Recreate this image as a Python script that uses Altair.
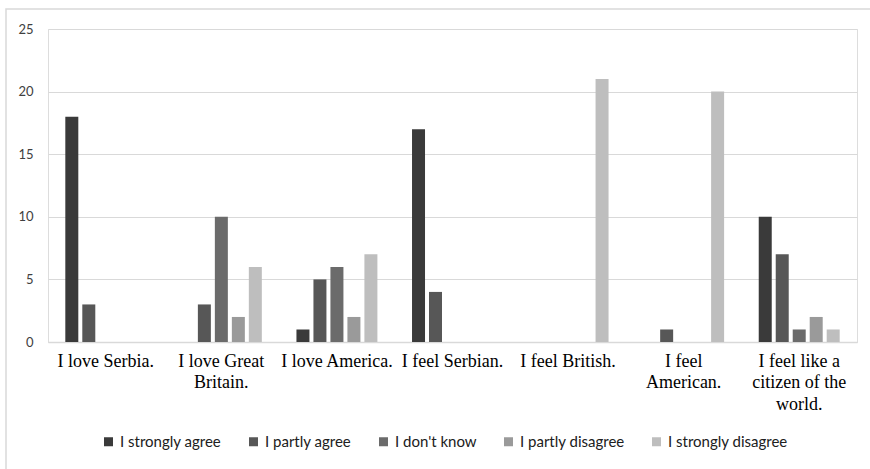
import altair as alt
import pandas as pd

categories = [
    "I love Serbia.",
    "I love Great Britain.",
    "I love America.",
    "I feel Serbian.",
    "I feel British.",
    "I feel American.",
    "I feel like a citizen of the world.",
]
label_lines = [
    ["I love Serbia."],
    ["I love Great", "Britain."],
    ["I love America."],
    ["I feel Serbian."],
    ["I feel British."],
    ["I feel", "American."],
    ["I feel like a", "citizen of the", "world."],
]
responses = ["I strongly agree", "I partly agree", "I don't know", "I partly disagree", "I strongly disagree"]
colors = ["#3a3a3a", "#575757", "#6b6b6b", "#9a9a9a", "#bebebe"]

strongly_agree = [18, 0, 1, 17, 0, 0, 10]
partly_agree = [3, 3, 5, 4, 0, 1, 7]
dont_know = [0, 10, 6, 0, 0, 0, 1]
partly_disagree = [0, 2, 2, 0, 0, 0, 2]
strongly_disagree = [0, 6, 7, 0, 21, 20, 1]

series = [strongly_agree, partly_agree, dont_know, partly_disagree, strongly_disagree]
rows = []
for r, vals in zip(responses, series):
    for c, v in zip(categories, vals):
        rows.append({"category": c, "response": r, "value": v})
df = pd.DataFrame(rows)

label_expr = ""
for c, lines in zip(categories, label_lines):
    arr = "[" + ",".join("'" + l + "'" for l in lines) + "]"
    label_expr += f"datum.label == '{c}' ? {arr} : "
label_expr += "datum.label"

bars = alt.Chart(df).mark_bar().encode(
    x=alt.X("category:N", sort=categories,
            scale=alt.Scale(paddingInner=0.265, paddingOuter=0.1325),
            axis=alt.Axis(title=None, labelAngle=0, labelExpr=label_expr,
                          labelFont="Liberation Serif", labelFontSize=18,
                          labelColor="#000000", labelLineHeight=21.5,
                          labelBaseline="top", labelPadding=10,
                          ticks=False, domainColor="#d9d9d9", domainWidth=1.5)),
    xOffset=alt.XOffset("response:N", sort=responses,
                        scale=alt.Scale(paddingInner=0.235, paddingOuter=0.1175)),
    y=alt.Y("value:Q", scale=alt.Scale(domain=[0, 25]),
            axis=alt.Axis(title=None, values=[0, 5, 10, 15, 20, 25],
                          labelFont="Lato", labelFontSize=13, labelColor="#404040",
                          labelPadding=15, domain=False, ticks=False,
                          gridColor="#d9d9d9", gridWidth=1.2)),
    color=alt.Color("response:N", sort=responses,
                    scale=alt.Scale(domain=responses, range=colors),
                    legend=alt.Legend(title=None, orient="none", direction="horizontal",
                                      legendX=53, legendY=405,
                                      symbolType="square", symbolSize=81,
                                      symbolStrokeWidth=0,
                                      labelFont="Lato", labelFontSize=15,
                                      labelColor="#202020",
                                      labelOffset=4, columnPadding=24)),
)

# decorative outer frame of the chart (only top and left edges fall inside the picture)
frame = alt.Chart(pd.DataFrame({"f": [0]})).mark_rect(
    fill=None, stroke="#d9d9d9", strokeWidth=1.5
).encode(
    x=alt.value(-42), x2=alt.value(1000), y=alt.value(-20), y2=alt.value(600)
)

chart = alt.layer(frame, bars).properties(
    width=809, height=313,
    autosize=alt.AutoSizeParams(type="none"),
    padding={"left": 48, "top": 29, "right": 13, "bottom": 127},
).configure_view(stroke=None).configure(background="#ffffff")

chart.save("out.html", embed_options={"renderer": "svg", "actions": False})
